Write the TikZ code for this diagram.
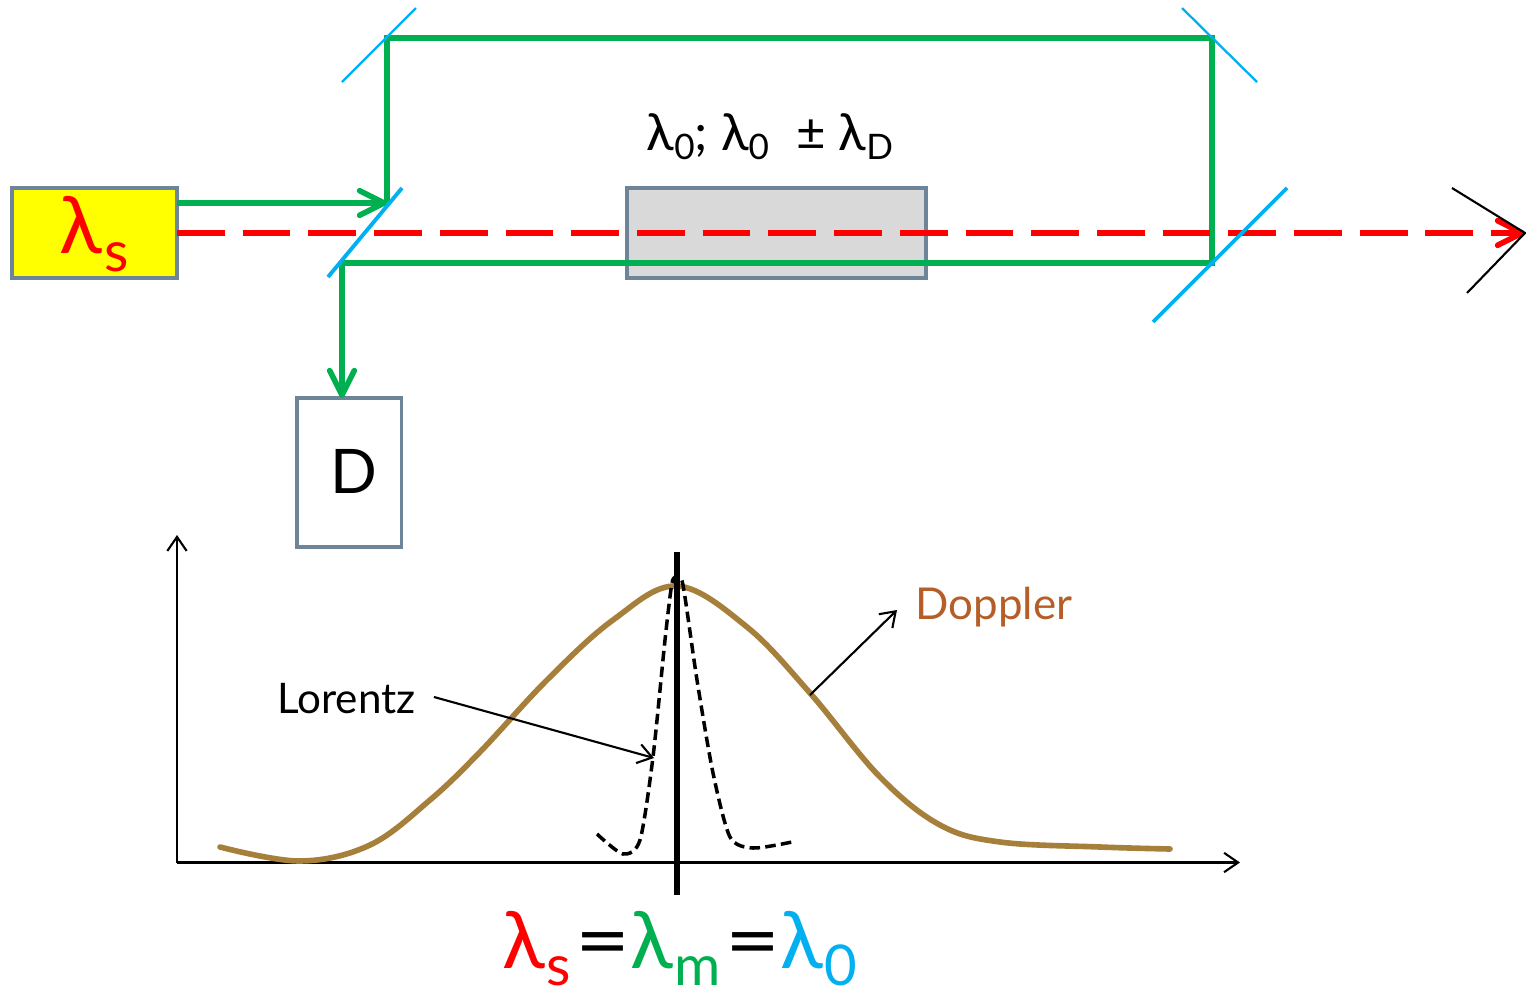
\documentclass[tikz,border=0pt]{standalone}
\usepackage{fontspec}
\setmainfont{Lato}
\usepackage{tikz}
\usetikzlibrary{arrows.meta, positioning, calc}
\definecolor{beamgreen}{HTML}{00B050}
\definecolor{beamred}{HTML}{FF0000}
\definecolor{sourceyellow}{HTML}{FFFF00}
\definecolor{cellgray}{HTML}{D9D9D9}
\definecolor{mirrorblue}{HTML}{00B0F0}
\definecolor{boxedge}{HTML}{6D8499}
\definecolor{dopplerbrown}{HTML}{A67F3A}
\definecolor{dopplertext}{HTML}{B65E27}
\newcommand{\lamsub}[2]{{\color{#1}\fontsize{45pt}{45pt}\selectfont λ\kern1pt\raisebox{-10pt}{\fontsize{32pt}{32pt}\selectfont #2}}}
\newcommand{\eqbar}{\kern2.5pt\scalebox{1.2}[1]{\fontsize{45pt}{45pt}\selectfont =}\kern0pt}
\newcommand{\cellsub}[1]{\raisebox{-5pt}{\fontsize{20pt}{20pt}\selectfont #1}}

\begin{document}
\begin{tikzpicture}[
  x=0.02cm, y=-0.02cm,
  optbox/.style={draw=boxedge, line width=2.2pt, inner sep=0pt, outer sep=0pt, anchor=north west},
  beam/.style={beamgreen, line width=3.2pt},
  beamtip/.style={-{Straight Barb[length=14pt, width=14pt, round]}},
  mirror/.style={mirrorblue, line width=1.3pt},
  splitter/.style={mirrorblue, line width=2.2pt},
  thinarrow/.style={line width=1.2pt, -{Straight Barb[length=8pt, width=11pt]}},
  label/.style={inner sep=0pt, font=\fontsize{24pt}{24pt}\selectfont}
]
  \useasboundingbox (0,0) rectangle (1526,991);

  % boxes
  \node[optbox, fill=sourceyellow, minimum width=93.9pt, minimum height=51pt] (source) at (12,188) {};
  \node[optbox, fill=cellgray, minimum width=170pt, minimum height=51pt] (cell) at (627,188) {};
  \node[optbox, minimum width=59.5pt, minimum height=85pt] (detector) at (297,398) {};

  \node[inner sep=0pt] (sourcetext) at (94,234) {\lamsub{beamred}{s}};
  \node[label, font=\fontsize{35pt}{35pt}\selectfont] (detectortext) at (354,471) {D};
  \node[label, font=\fontsize{29pt}{29pt}\selectfont] (celltext) at (770,137)
    {λ\cellsub{0}; λ\cellsub{0}\; ± λ\cellsub{D}};

  % mirrors
  \coordinate (splitA) at (387,203);
  \coordinate (cornerA) at (387,38);
  \coordinate (cornerB) at (1212,38);
  \coordinate (splitB) at (1212,263);
  \coordinate (splitC) at (342,263);
  \coordinate (sourcegreen) at (source.east |- splitA);
  \coordinate (sourcered) at (source.east |- 0,233);
  \coordinate (farend) at (1525,233);

  % beams
  \draw[beam, beamtip] (sourcegreen) -- (splitA);
  \draw[beam, line join=miter] (splitA) -- (cornerA) -- (cornerB) -- (splitB) -- (splitC);
  \draw[beam, beamtip] (splitC) -- (detector.north -| splitC);
  \draw[beamred, line width=3.2pt, dash pattern=on 27.2pt off 10.2pt,
        -{Straight Barb[length=14pt, width=14pt, round]}] (sourcered) -- (farend);

  \draw[splitter] (328,277) -- (402,188);
  \draw[splitter] (1153,322) -- (1287,188);
  \draw[mirror] (342,82) -- (416,8);
  \draw[mirror] (1182,8) -- (1257,82);
  \draw[line width=1.2pt] (1452,188) -- (farend) -- (1467,293);

  % axes
  \coordinate (origin) at (177,862.5);
  \draw[thinarrow] (origin) -- (177,535);
  \draw[thinarrow] (origin) -- (1240,862.5);

  % curves
  \draw[dopplerbrown, line width=3.2pt, line cap=round] plot[smooth, tension=0.6] coordinates {
    (220,847) (300,861) (370,845) (430,800) (480,752) (547,680) (613,620) (677,586)
    (747,627) (810,693) (880,777) (940,825) (1000,842) (1100,847) (1170,849)};
  \draw[line width=2pt, dash pattern=on 6pt off 3pt] plot[smooth, tension=0.45] coordinates {
    (597,834) (623,854) (640,840) (653,757) (665,640) (672,583) (677,578) (683,585)
    (697,680) (713,773) (730,837) (753,848) (792,842)};
  \draw[line width=3.4pt] (677,552) -- (677,895);

  % labels
  \node[label, anchor=west] (lorentz) at (277,699) {Lorentz};
  \node[label, anchor=west, text=dopplertext, font=\fontsize{25pt}{25pt}\selectfont] (doppler) at (915,607) {Doppler};
  \coordinate (lorentzstart) at (434,697);
  \coordinate (lorentzend) at (654,758);
  \coordinate (dopplerstart) at (810,695);
  \coordinate (dopplerend) at (897,610);
  \draw[thinarrow] (lorentzstart) -- (lorentzend);
  \draw[thinarrow] (dopplerstart) -- (dopplerend);

  \node[inner sep=0pt, anchor=base west] (formula) at (502,968)
    {\lamsub{beamred}{s}\eqbar\lamsub{beamgreen}{m}\eqbar\lamsub{mirrorblue}{0}};
\end{tikzpicture}
\end{document}
